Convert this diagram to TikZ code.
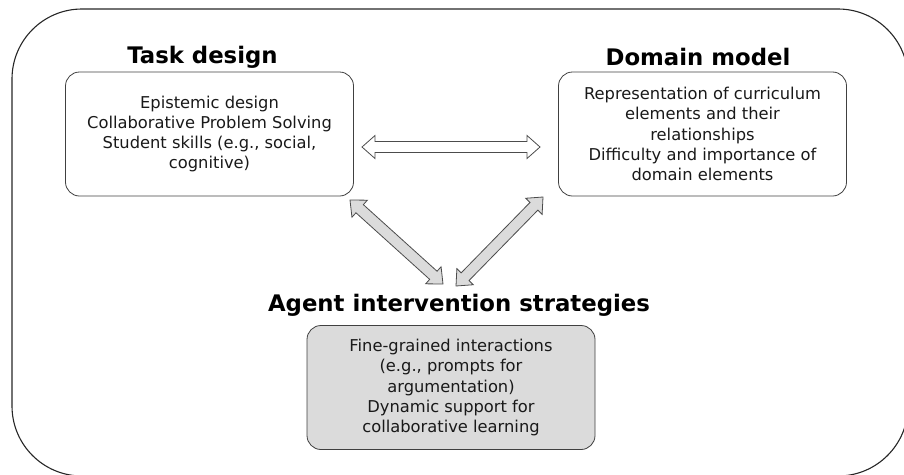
\documentclass[tikz,border=0pt]{standalone}
\usepackage{fontspec}
\setmainfont{DejaVu Sans}
\usetikzlibrary{calc}

% hollow double arrow between two points: #1 style, #2 from, #3 to
\newcommand{\dblarrow}[3]{%
\draw[#1] (#2) -- ($(#2)!13pt!(#3)!11.5pt!90:(#3)$) -- ($(#2)!13pt!(#3)!5.5pt!90:(#3)$)
  -- ($(#3)!13pt!(#2)!5.5pt!-90:(#2)$) -- ($(#3)!13pt!(#2)!11.5pt!-90:(#2)$) -- (#3)
  -- ($(#3)!13pt!(#2)!11.5pt!90:(#2)$) -- ($(#3)!13pt!(#2)!5.5pt!90:(#2)$)
  -- ($(#2)!13pt!(#3)!5.5pt!-90:(#3)$) -- ($(#2)!13pt!(#3)!11.5pt!-90:(#3)$) -- cycle;}

\begin{document}
\begin{tikzpicture}[x=1pt,y=-1pt,
  box/.style={draw=black!75, rounded corners=14pt, line width=0.8pt,
    minimum width=288pt, minimum height=124pt, align=center, inner sep=0pt,
    font=\fontsize{16.3}{20.3}\selectfont, text=black!90},
  title/.style={font=\fontsize{22.8}{26}\selectfont\bfseries},
  arr/.style={draw=black!70, line width=0.8pt, line join=miter}]
\useasboundingbox (0,0) rectangle (904,474);
\clip (0,0) rectangle (904,474);
% outer frame
\draw[black!85, line width=1.1pt, rounded corners=70pt] (12,9) rectangle (908,476);

\node (tasktitle) [title] at (202.5,57) {Task design};
\node (task) [box] at (209.5,134) {Epistemic design\\Collaborative Problem Solving\\Student skills (e.g., social,\\cognitive)};

\node (domaintitle) [title] at (698,57) {Domain model};
\node (domain) [box] at (702.5,134) {Representation of curriculum\\elements and their\\relationships\\Difficulty and importance of\\domain elements};

\node (agenttitle) [title] at (459,305) {Agent intervention strategies};
\node (agent) [box, fill=gray!28] at (451,387.5) {Fine-grained interactions\\(e.g., prompts for\\argumentation)\\Dynamic support for\\collaborative learning};

% arrow ends
\coordinate (td1) at (362,147);
\coordinate (td2) at (540,147);
\coordinate (ta1) at (350,200);
\coordinate (ta2) at (443,284);
\coordinate (da1) at (543,197);
\coordinate (da2) at (456,286);

\dblarrow{arr, fill=white}{td1}{td2}
\dblarrow{arr, fill=gray!28}{ta1}{ta2}
\dblarrow{arr, fill=gray!28}{da1}{da2}
\end{tikzpicture}
\end{document}
